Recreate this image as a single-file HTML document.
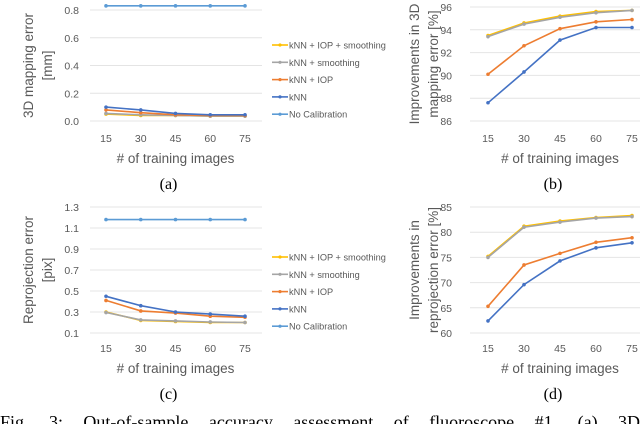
<!DOCTYPE html>
<html><head><meta charset="utf-8"><style>
html,body{margin:0;padding:0;background:#fff;width:640px;height:424px;overflow:hidden}
svg{display:block}
.t{font-family:"Liberation Sans",sans-serif;fill:#595959}
.s{font-family:"Liberation Serif",serif;fill:#000}
</style></head><body>
<svg id="fig" width="640" height="424" xmlns="http://www.w3.org/2000/svg"></svg>
<script>
const xCats = [15, 30, 45, 60, 75];
const seriesNames = ["kNN + IOP + smoothing", "kNN + smoothing", "kNN + IOP", "kNN", "No Calibration"];
const aYellow = [0.05, 0.04, 0.04, 0.035, 0.035];
const aGray = [0.055, 0.045, 0.04, 0.035, 0.035];
const aOrange = [0.08, 0.06, 0.045, 0.04, 0.04];
const aBlue = [0.10, 0.08, 0.055, 0.045, 0.045];
const aNoCal = [0.83, 0.83, 0.83, 0.83, 0.83];
const aTicks = [0.0, 0.2, 0.4, 0.6, 0.8];
const bYellow = [93.5, 94.6, 95.2, 95.6, 95.7];
const bGray = [93.4, 94.5, 95.1, 95.5, 95.7];
const bOrange = [90.1, 92.6, 94.1, 94.7, 94.9];
const bBlue = [87.6, 90.3, 93.1, 94.2, 94.2];
const bTicks = [86, 88, 90, 92, 94, 96];
const cYellow = [0.30, 0.22, 0.21, 0.20, 0.20];
const cGray = [0.295, 0.225, 0.215, 0.205, 0.20];
const cOrange = [0.41, 0.31, 0.29, 0.26, 0.25];
const cBlue = [0.45, 0.36, 0.30, 0.28, 0.26];
const cNoCal = [1.18, 1.18, 1.18, 1.18, 1.18];
const cTicks = [0.1, 0.3, 0.5, 0.7, 0.9, 1.1, 1.3];
const dYellow = [75.2, 81.2, 82.2, 82.9, 83.3];
const dGray = [75.0, 81.0, 82.0, 82.8, 83.1];
const dOrange = [65.3, 73.5, 75.8, 78.0, 78.9];
const dBlue = [62.4, 69.6, 74.3, 76.9, 77.9];
const dTicks = [60, 65, 70, 75, 80, 85];

const NS = "http://www.w3.org/2000/svg";
const svg = document.getElementById('fig');
const COLORS = ["#FFC000", "#A5A5A5", "#ED7D31", "#4472C4", "#5B9BD5"];
function mk(tag, attrs, parent, txt) {
  const e = document.createElementNS(NS, tag);
  for (const k in attrs) e.setAttribute(k, attrs[k]);
  if (txt !== undefined) e.textContent = txt;
  (parent || svg).appendChild(e);
  return e;
}
function chart(o) {
  const g = mk('g', {});
  
  
  const ymin = o.ticks[0], ymax = o.ticks[o.ticks.length - 1];
  const ys = v => o.y0 - (v - ymin) / (ymax - ymin) * (o.y0 - o.y1);
  const xs = i => o.xa + i * (o.xb - o.xa) / (xCats.length - 1);
  o.ticks.forEach(t => {
    const l = mk('line', {x1: o.gx0, x2: o.gx1, y1: ys(t), y2: ys(t), stroke: '#e4e4e4', 'stroke-width': 1}, g);
    
    
    const tx = mk('text', {x: o.lx, y: ys(t) + 4, 'text-anchor': 'end', 'font-size': 10.5, class: 't'}, g, o.fmt(t));
    
    
  });
  xCats.forEach((c, i) => {
    const tx = mk('text', {x: xs(i), y: o.xl, 'text-anchor': 'middle', 'font-size': 10.5, class: 't'}, g, c);
    
    
  });
  o.series.forEach((s, k) => {
    if (!s) return;
    const pts = s.map((v, i) => xs(i).toFixed(1) + ',' + ys(v).toFixed(1)).join(' ');
    const p = mk('polyline', {points: pts, fill: 'none', stroke: COLORS[k], 'stroke-width': 1.6}, g);
    
    
    s.forEach((v, i) => {
      const m = mk('circle', {cx: xs(i), cy: ys(v), r: 1.8, fill: COLORS[k]}, g);
      
      
    });
  });
  o.ytitle.forEach((t, j) => {
    const x = o.tx + j * 19, y = (o.y0 + o.y1) / 2;
    const tt = mk('text', {x: x, y: y, 'text-anchor': 'middle', 'font-size': 13.5, class: 't', transform: `rotate(-90 ${x} ${y})`}, g, t);
    
    
  });
  const xt = mk('text', {x: (o.xa + o.xb) / 2, y: o.xl + 21, 'text-anchor': 'middle', 'font-size': 13.5, class: 't'}, g, '# of training images');
  
  
  const lb = mk('text', {x: (o.xa + o.xb) / 2 - 7, y: o.xl + 47, 'text-anchor': 'middle', 'font-size': 16, class: 's'}, g, o.label);
  
  
  if (o.legendY) {
    seriesNames.forEach((n, k) => {
      const y = o.legendY + k * 17.3;
      const l = mk('line', {x1: 272, x2: 288, y1: y, y2: y, stroke: COLORS[k], 'stroke-width': 1.6}, g);
      
      
      mk('circle', {cx: 280, cy: y, r: 1.6, fill: COLORS[k]}, g);
      const t = mk('text', {x: 289, y: y + 3.5, 'font-size': 9.2, class: 't'}, g, n);
      
      
    });
  }
}
chart({name: 'chart-a', ticks: aTicks, y0: 121, y1: 10, xa: 106, xb: 245, gx0: 90, gx1: 262, lx: 79, xl: 142, tx: 33, ytitle: ['3D mapping error', '[mm]'], fmt: v => v.toFixed(1), series: [aYellow, aGray, aOrange, aBlue, aNoCal], label: '(a)', legendY: 45});
chart({name: 'chart-b', ticks: bTicks, y0: 121, y1: 7, xa: 488, xb: 632, gx0: 470, gx1: 640, lx: 452, xl: 142, tx: 419, ytitle: ['Improvements in 3D', 'mapping error [%]'], fmt: v => String(v), series: [bYellow, bGray, bOrange, bBlue], label: '(b)'});
chart({name: 'chart-c', ticks: cTicks, y0: 333, y1: 207, xa: 106, xb: 245, gx0: 90, gx1: 262, lx: 79, xl: 352, tx: 33, ytitle: ['Reprojection error', '[pix]'], fmt: v => v.toFixed(1), series: [cYellow, cGray, cOrange, cBlue, cNoCal], label: '(c)', legendY: 257});
chart({name: 'chart-d', ticks: dTicks, y0: 333, y1: 207, xa: 488, xb: 632, gx0: 470, gx1: 640, lx: 452, xl: 352, tx: 419, ytitle: ['Improvements in', 'reprojection error [%]'], fmt: v => String(v), series: [dYellow, dGray, dOrange, dBlue], label: '(d)'});
const capWords = ['Fig.', '3:', 'Out-of-sample', 'accuracy', 'assessment', 'of', 'fluoroscope', '#1.', '(a)', '3D'];
const cap = mk('g', {});


const ws = capWords.map(w => mk('text', {x: 0, y: 428, 'font-size': 18, class: 's'}, cap, w));
const widths = ws.map(e => e.getComputedTextLength());
const total = widths.reduce((a, b) => a + b, 0);
const gap = (640 - total) / (capWords.length - 1);
let cx = 0;
ws.forEach((e, i) => { e.setAttribute('x', cx.toFixed(1)); cx += widths[i] + gap; });
</script>
</body></html>
